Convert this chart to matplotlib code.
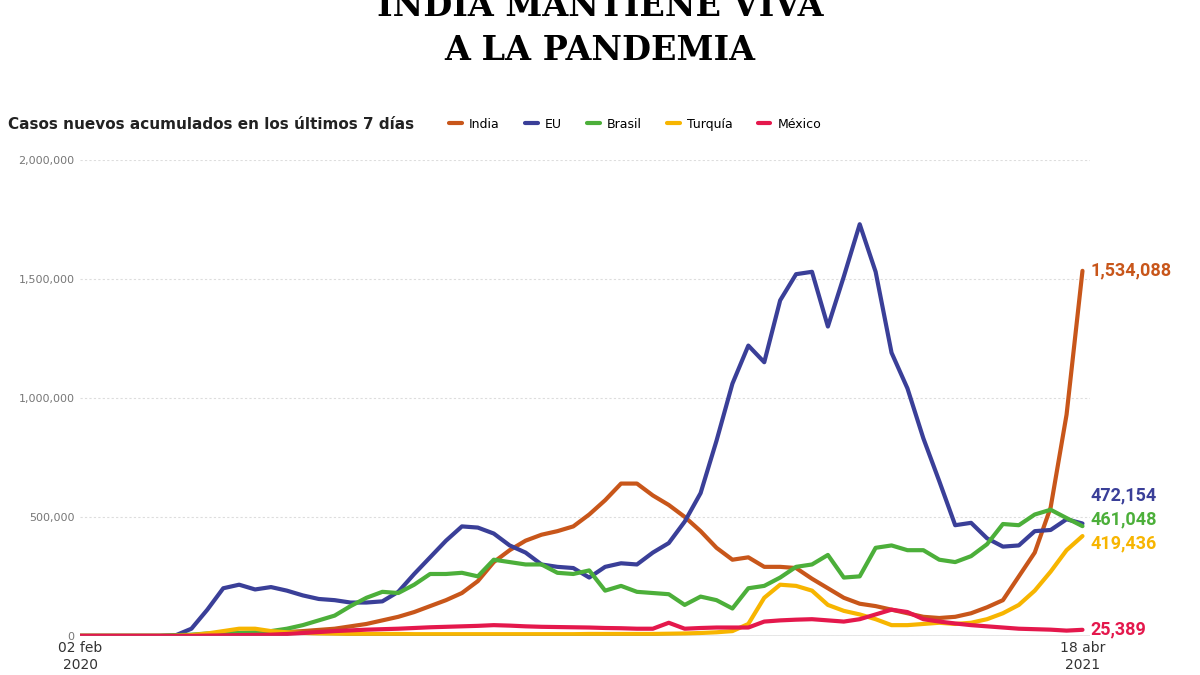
import matplotlib
matplotlib.use("Agg")
import matplotlib.pyplot as plt
import numpy as np

weeks = list(range(64))
india = [0,0,0,0,0,0,0,1000,2000,3000,5000,8000,12000,16000,20000,25000,30000,40000,50000,65000,80000,100000,125000,150000,180000,230000,310000,360000,400000,425000,440000,460000,510000,570000,640000,640000,590000,550000,500000,440000,370000,320000,330000,290000,290000,285000,240000,200000,160000,135000,125000,110000,95000,80000,75000,80000,95000,120000,150000,250000,350000,540000,930000,1534088]
eu = [0,0,0,0,0,0,2000,30000,110000,200000,215000,195000,205000,190000,170000,155000,150000,140000,140000,145000,185000,260000,330000,400000,460000,455000,430000,380000,350000,300000,290000,285000,245000,290000,305000,300000,350000,390000,480000,600000,820000,1060000,1220000,1150000,1410000,1520000,1530000,1300000,1510000,1730000,1530000,1190000,1040000,830000,650000,465000,475000,410000,375000,380000,440000,445000,490000,472154]
brasil = [0,0,0,0,0,0,3000,5000,10000,11000,12000,15000,20000,30000,45000,65000,85000,125000,160000,185000,180000,215000,260000,260000,265000,250000,320000,310000,300000,300000,265000,260000,275000,190000,210000,185000,180000,175000,130000,165000,150000,115000,200000,210000,245000,290000,300000,340000,245000,250000,370000,380000,360000,360000,320000,310000,335000,385000,470000,465000,510000,530000,495000,461048]
turquia = [0,0,0,0,0,0,0,3000,10000,20000,30000,30000,20000,15000,12000,10000,9000,8000,8000,8000,8000,7000,7000,7000,7000,7000,7000,7000,7000,7000,7000,7000,8000,8000,8000,8000,8000,9000,10000,12000,15000,20000,50000,160000,215000,210000,190000,130000,105000,90000,70000,45000,45000,50000,55000,50000,55000,70000,95000,130000,190000,270000,360000,419436]
mexico = [0,0,0,0,0,0,0,0,1000,2000,3000,4000,5000,8000,12000,16000,20000,23000,26000,28000,30000,33000,36000,38000,40000,42000,45000,43000,40000,38000,37000,36000,35000,33000,32000,30000,30000,55000,30000,33000,35000,35000,35000,60000,65000,68000,70000,65000,60000,70000,90000,110000,100000,70000,60000,52000,45000,40000,35000,30000,28000,26000,22000,25389]

names = ["India", "EU", "Brasil", "Turquía", "México"]
colors = ["#c8561a", "#3a3f98", "#4caf3a", "#f7b500", "#e4184c"]
series = [india, eu, brasil, turquia, mexico]
yticks = [0, 500000, 1000000, 1500000, 2000000]

fig = plt.figure(figsize=(12, 6.75), dpi=100)
ax = fig.add_axes([0.0667, 0.058, 0.842, 0.705])
for s, c, n in zip(series, colors, names):
    ax.plot(weeks, s, color=c, lw=3, label=n, solid_capstyle="round")
ax.set_xlim(0, 63.5)
ax.set_ylim(0, 2000000)
ax.set_yticks(yticks)
ax.set_yticklabels(["0", "500,000", "1,000,000", "1,500,000", "2,000,000"], fontsize=8, color="#777777")
ax.yaxis.grid(True, color="#dddddd", lw=0.8, ls=(0, (2, 2)))
ax.set_xticks([0, 63])
ax.set_xticklabels(["02 feb\n2020", "18 abr\n2021"], fontsize=10, color="#333333")
ax.tick_params(length=0, pad=4)
for sp in ax.spines.values():
    sp.set_visible(False)
ax.axhline(0, color="#888888", lw=1)

label_y = {"India": 1534088, "EU": 590000, "Brasil": 490000, "Turquía": 390000, "México": 25389}
for s, c, n in zip(series, colors, names):
    ax.annotate(f"{s[-1]:,}", (63, label_y[n]), xytext=(6, 0), textcoords="offset points",
                color=c, fontsize=13, fontweight="bold", va="center", annotation_clip=False,
                family="Roboto")

fig.text(0.5, 0.99, "INDIA MANTIENE VIVA", ha="center", va="center", fontsize=24,
         fontweight="bold", family="DejaVu Serif")
fig.text(0.5, 0.925, "A LA PANDEMIA", ha="center", va="center", fontsize=24,
         fontweight="bold", family="DejaVu Serif")
fig.text(0.007, 0.816, "Casos nuevos acumulados en los últimos 7 días", fontsize=11,
         fontweight="bold", va="center", color="#222222")
leg = fig.legend(loc="center left", bbox_to_anchor=(0.365, 0.816), ncol=5, frameon=False,
                 fontsize=9, handlelength=1.0, columnspacing=2.0, handletextpad=0.6)
for l in leg.get_lines():
    l.set_linewidth(3)
fig.savefig("out.png", dpi=100)
